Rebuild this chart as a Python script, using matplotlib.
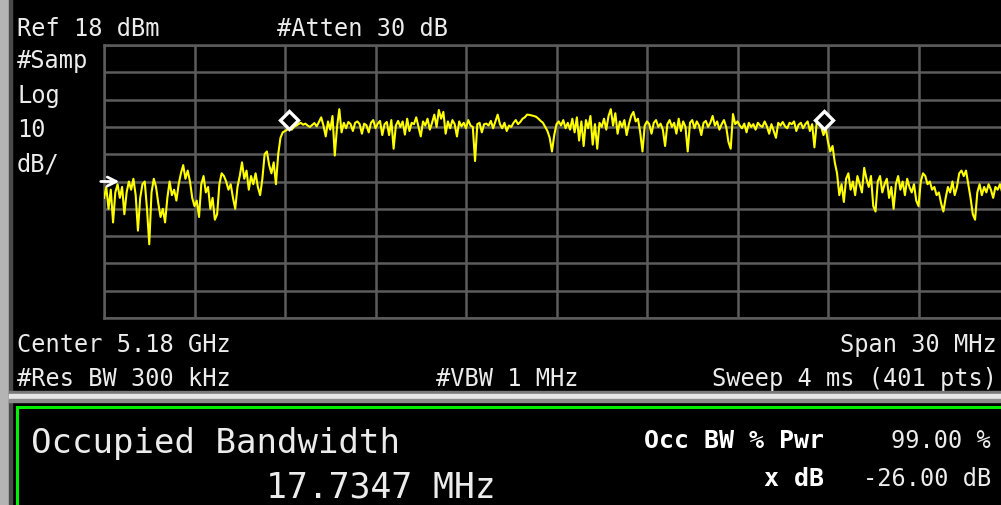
import numpy as np
import matplotlib.pyplot as plt
from matplotlib.patches import Rectangle

# instrument settings
ref_level = 18      # dBm, top of graticule
db_per_div = 10
span_mhz = 30
n_points = 401

# trace (dBm), split into lower skirt / channel / upper skirt
lower_skirt = [
    -38, -34, -42, -35, -47, -36, -33, -38, -34, -44,
    -36, -32, -35, -31, -37, -50, -38, -33, -32, -42,
    -55, -36, -31, -34, -40, -45, -42, -47, -38, -32,
    -37, -35, -39, -33, -29, -26, -31, -28, -32, -38,
    -41, -39, -45, -33, -30, -36, -34, -42, -38, -46,
    -44, -33, -29, -30, -32, -35, -33, -38, -42, -34,
    -30, -25, -31, -28, -35, -30, -33, -29, -34, -37,
    -31, -22, -21, -26, -29, -25, -33, -22, -16, -14,
]
in_band = [
    -13.5, -13, -12.5, -13, -12, -11.5, -11.0, -10.5, -11.2, -10.8,
    -11.5, -12.0, -11.3, -10.6, -11.8, -10.2, -8.5, -11.5, -15.5, -10.0,
    -13.0, -8.0, -22.5, -12.0, -5.5, -14.0, -10.5, -12.5, -10.2, -11.0,
    -13.5, -10.5, -10.0, -11.0, -14.5, -10.8, -11.4, -14.0, -10.5, -9.5,
    -12.5, -10.8, -9.8, -15.0, -11.0, -10.2, -15.0, -9.5, -20.0, -11.5,
    -9.8, -12.0, -10.0, -14.8, -9.0, -13.5, -10.5, -11.0, -8.5, -12.0,
    -15.5, -10.0, -11.5, -9.0, -13.0, -10.5, -7.5, -12.0, -5.8, -9.0,
    -6.5, -14.5, -10.0, -12.5, -9.5, -11.0, -15.5, -10.0, -11.8, -10.5,
    -12.5, -9.5, -11.5, -12.0, -24.5, -11.0, -10.5, -14.0, -11.0, -10.8,
    -11.5, -9.8, -12.5, -10.0, -7.5, -11.0, -12.5, -10.5, -13.5, -11.5,
    -12.0, -10.5, -9.5, -11.0, -10.2, -9.0, -8.5, -7.5, -7.6, -7.8,
    -8.0, -8.3, -9.0, -9.8, -10.5, -12.0, -13.5, -16.0, -21.0, -15.0,
    -11.0, -10.0, -11.5, -9.5, -12.5, -10.5, -13.0, -9.0, -14.0, -8.5,
    -17.0, -10.0, -19.0, -9.5, -12.5, -8.0, -18.5, -11.0, -20.0, -10.5,
    -12.0, -9.0, -13.0, -8.0, -5.5, -11.5, -7.0, -14.5, -10.0, -12.0,
    -9.5, -15.0, -11.0, -8.0, -6.5, -10.0, -9.0, -14.0, -21.0, -11.5,
    -10.0, -11.0, -14.5, -10.5, -9.5, -12.0, -10.8, -13.0, -19.0, -11.0,
    -9.5, -12.0, -10.5, -14.5, -9.0, -13.5, -10.0, -12.0, -21.0, -10.5,
    -9.5, -12.5, -10.0, -11.5, -15.0, -10.5, -9.8, -12.0, -10.5, -8.0,
    -11.5, -10.0, -13.0, -11.0, -9.5, -12.0, -17.5, -20.0, -7.3, -11.0,
    -10.0, -11.5, -12.5, -10.8, -14.0, -10.5, -12.0, -11.0, -13.0, -10.5,
    -11.5, -12.0, -10.0, -11.8, -14.5, -11.0, -13.5, -16.0, -10.5, -11.5,
    -10.2, -11.8, -12.5, -10.5, -11.0, -10.0, -13.5, -11.2, -10.5, -12.5,
    -11.0, -10.0, -13.5, -11.0, -19.5, -10.5, -9.5, -12.0, -15.0, -12.5,
]
upper_skirt = [
    -17.5, -21.0, -19.0, -25.0, -29.0, -37.0, -33.0, -39.5, -31, -29,
    -35, -32, -37, -30, -33, -36, -27, -31, -34, -30,
    -41, -43, -32, -30, -36, -33, -31, -38, -34, -42,
    -33, -30, -35, -32, -37, -31, -34, -36, -33, -39,
    -41, -32, -29, -30, -33, -32, -35, -34, -37, -36,
    -40, -43, -38, -34, -36, -32, -37, -34, -29, -28,
    -30, -28, -33, -38, -44, -46, -36, -33, -37, -34,
    -36, -33, -35, -38, -34, -35, -33, -36, -34, -35,
    -33,
]
trace = np.array(lower_skirt + in_band + upper_skirt)

# occupied bandwidth markers (MHz offset from center, dBm)
obw_marker_f = [-8.867, 8.867]
obw_marker_db = [-9.5, -9.5]

W, H = 1001, 506
FONT = 'DejaVu Sans Mono'
TXT = '#ececec'

def fx(px):
    return px / W

def fy(py):
    return 1 - py / H

fig = plt.figure(figsize=(W / 100, H / 100), dpi=100, facecolor='black')

# graticule
ax = fig.add_axes([fx(104), fy(319), 905 / W, 273 / H])
ax.set_facecolor('black')
ax.set_xlim(-span_mhz / 2, span_mhz / 2)
ax.set_ylim(ref_level - 10 * db_per_div, ref_level)
ax.set_xticks(np.linspace(-span_mhz / 2, span_mhz / 2, 11))
ax.set_yticks(np.arange(ref_level - 10 * db_per_div, ref_level + 1, db_per_div))
ax.tick_params(length=0, labelbottom=False, labelleft=False)
ax.grid(True, color='#5c5c5c', lw=1.8)
for s in ax.spines.values():
    s.set_color('#5c5c5c')
    s.set_linewidth(1.8)

freq = np.linspace(-span_mhz / 2, span_mhz / 2, n_points)
ax.plot(freq, trace, color='#ffff00', lw=1.5, zorder=3)
ax.plot(obw_marker_f, obw_marker_db, 'D', ms=9, mfc='black', mec='white',
        mew=2.4, zorder=5)
ax.annotate('', xy=(-14.4, -32), xytext=(-15.2, -32),
            arrowprops=dict(arrowstyle='->', color='white', lw=2,
                            mutation_scale=16),
            annotation_clip=False, zorder=6)

# annotation text around the graticule
fs = 17
fig.text(fx(17), fy(36), 'Ref 18 dBm', color=TXT, family=FONT, size=fs, va='baseline')
fig.text(fx(277), fy(36), '#Atten 30 dB', color=TXT, family=FONT, size=fs, va='baseline')
fig.text(fx(17), fy(68), '#Samp', color=TXT, family=FONT, size=fs, va='baseline')
fig.text(fx(17), fy(103), 'Log', color=TXT, family=FONT, size=fs, va='baseline')
fig.text(fx(17), fy(137), '10', color=TXT, family=FONT, size=fs, va='baseline')
fig.text(fx(17), fy(172), 'dB/', color=TXT, family=FONT, size=fs, va='baseline')
fig.text(fx(17), fy(352), 'Center 5.18 GHz', color=TXT, family=FONT, size=fs, va='baseline')
fig.text(fx(997), fy(352), 'Span 30 MHz', color=TXT, family=FONT, size=fs, va='baseline', ha='right')
fig.text(fx(17), fy(386), '#Res BW 300 kHz', color=TXT, family=FONT, size=fs, va='baseline')
fig.text(fx(436), fy(386), '#VBW 1 MHz', color=TXT, family=FONT, size=fs, va='baseline')
fig.text(fx(997), fy(386), 'Sweep 4 ms (401 pts)', color=TXT, family=FONT, size=fs, va='baseline', ha='right')

# frame pieces: left bezel strip and divider between panels
fig.patches.append(Rectangle((0, 0), fx(9), 1, transform=fig.transFigure,
                             color='#b4b4b4', zorder=0))
fig.patches.append(Rectangle((fx(9), 0), fx(3), 1, transform=fig.transFigure,
                             color='#4a4a4a', zorder=0))
for y0, y1, c in [(392, 395, '#7a7a7a'), (395, 400, '#e6e6e6'), (400, 403, '#8c8c8c')]:
    fig.patches.append(Rectangle((fx(9), fy(y1)), 1, (y1 - y0) / H,
                                 transform=fig.transFigure, color=c, zorder=1))
fig.patches.append(Rectangle((fx(16.5), fy(520)), 1.1, (520 - 407.5) / H,
                             transform=fig.transFigure, fill=False,
                             edgecolor='#00f000', lw=2.2, zorder=2))

# measurement result panel
fig.text(fx(31), fy(453), 'Occupied Bandwidth', color=TXT, family=FONT, size=24.5, va='baseline')
fig.text(fx(266), fy(498), '17.7347 MHz', color=TXT, family=FONT, size=25, va='baseline')
fig.text(fx(824), fy(448), 'Occ BW % Pwr', color='white', family=FONT, size=18,
         weight='bold', va='baseline', ha='right')
fig.text(fx(991), fy(448), '99.00 %', color=TXT, family=FONT, size=fs, va='baseline', ha='right')
fig.text(fx(824), fy(486), 'x dB', color='white', family=FONT, size=18,
         weight='bold', va='baseline', ha='right')
fig.text(fx(991), fy(486), '-26.00 dB', color=TXT, family=FONT, size=fs, va='baseline', ha='right')

fig.savefig('out.png', dpi=100, facecolor='black')
